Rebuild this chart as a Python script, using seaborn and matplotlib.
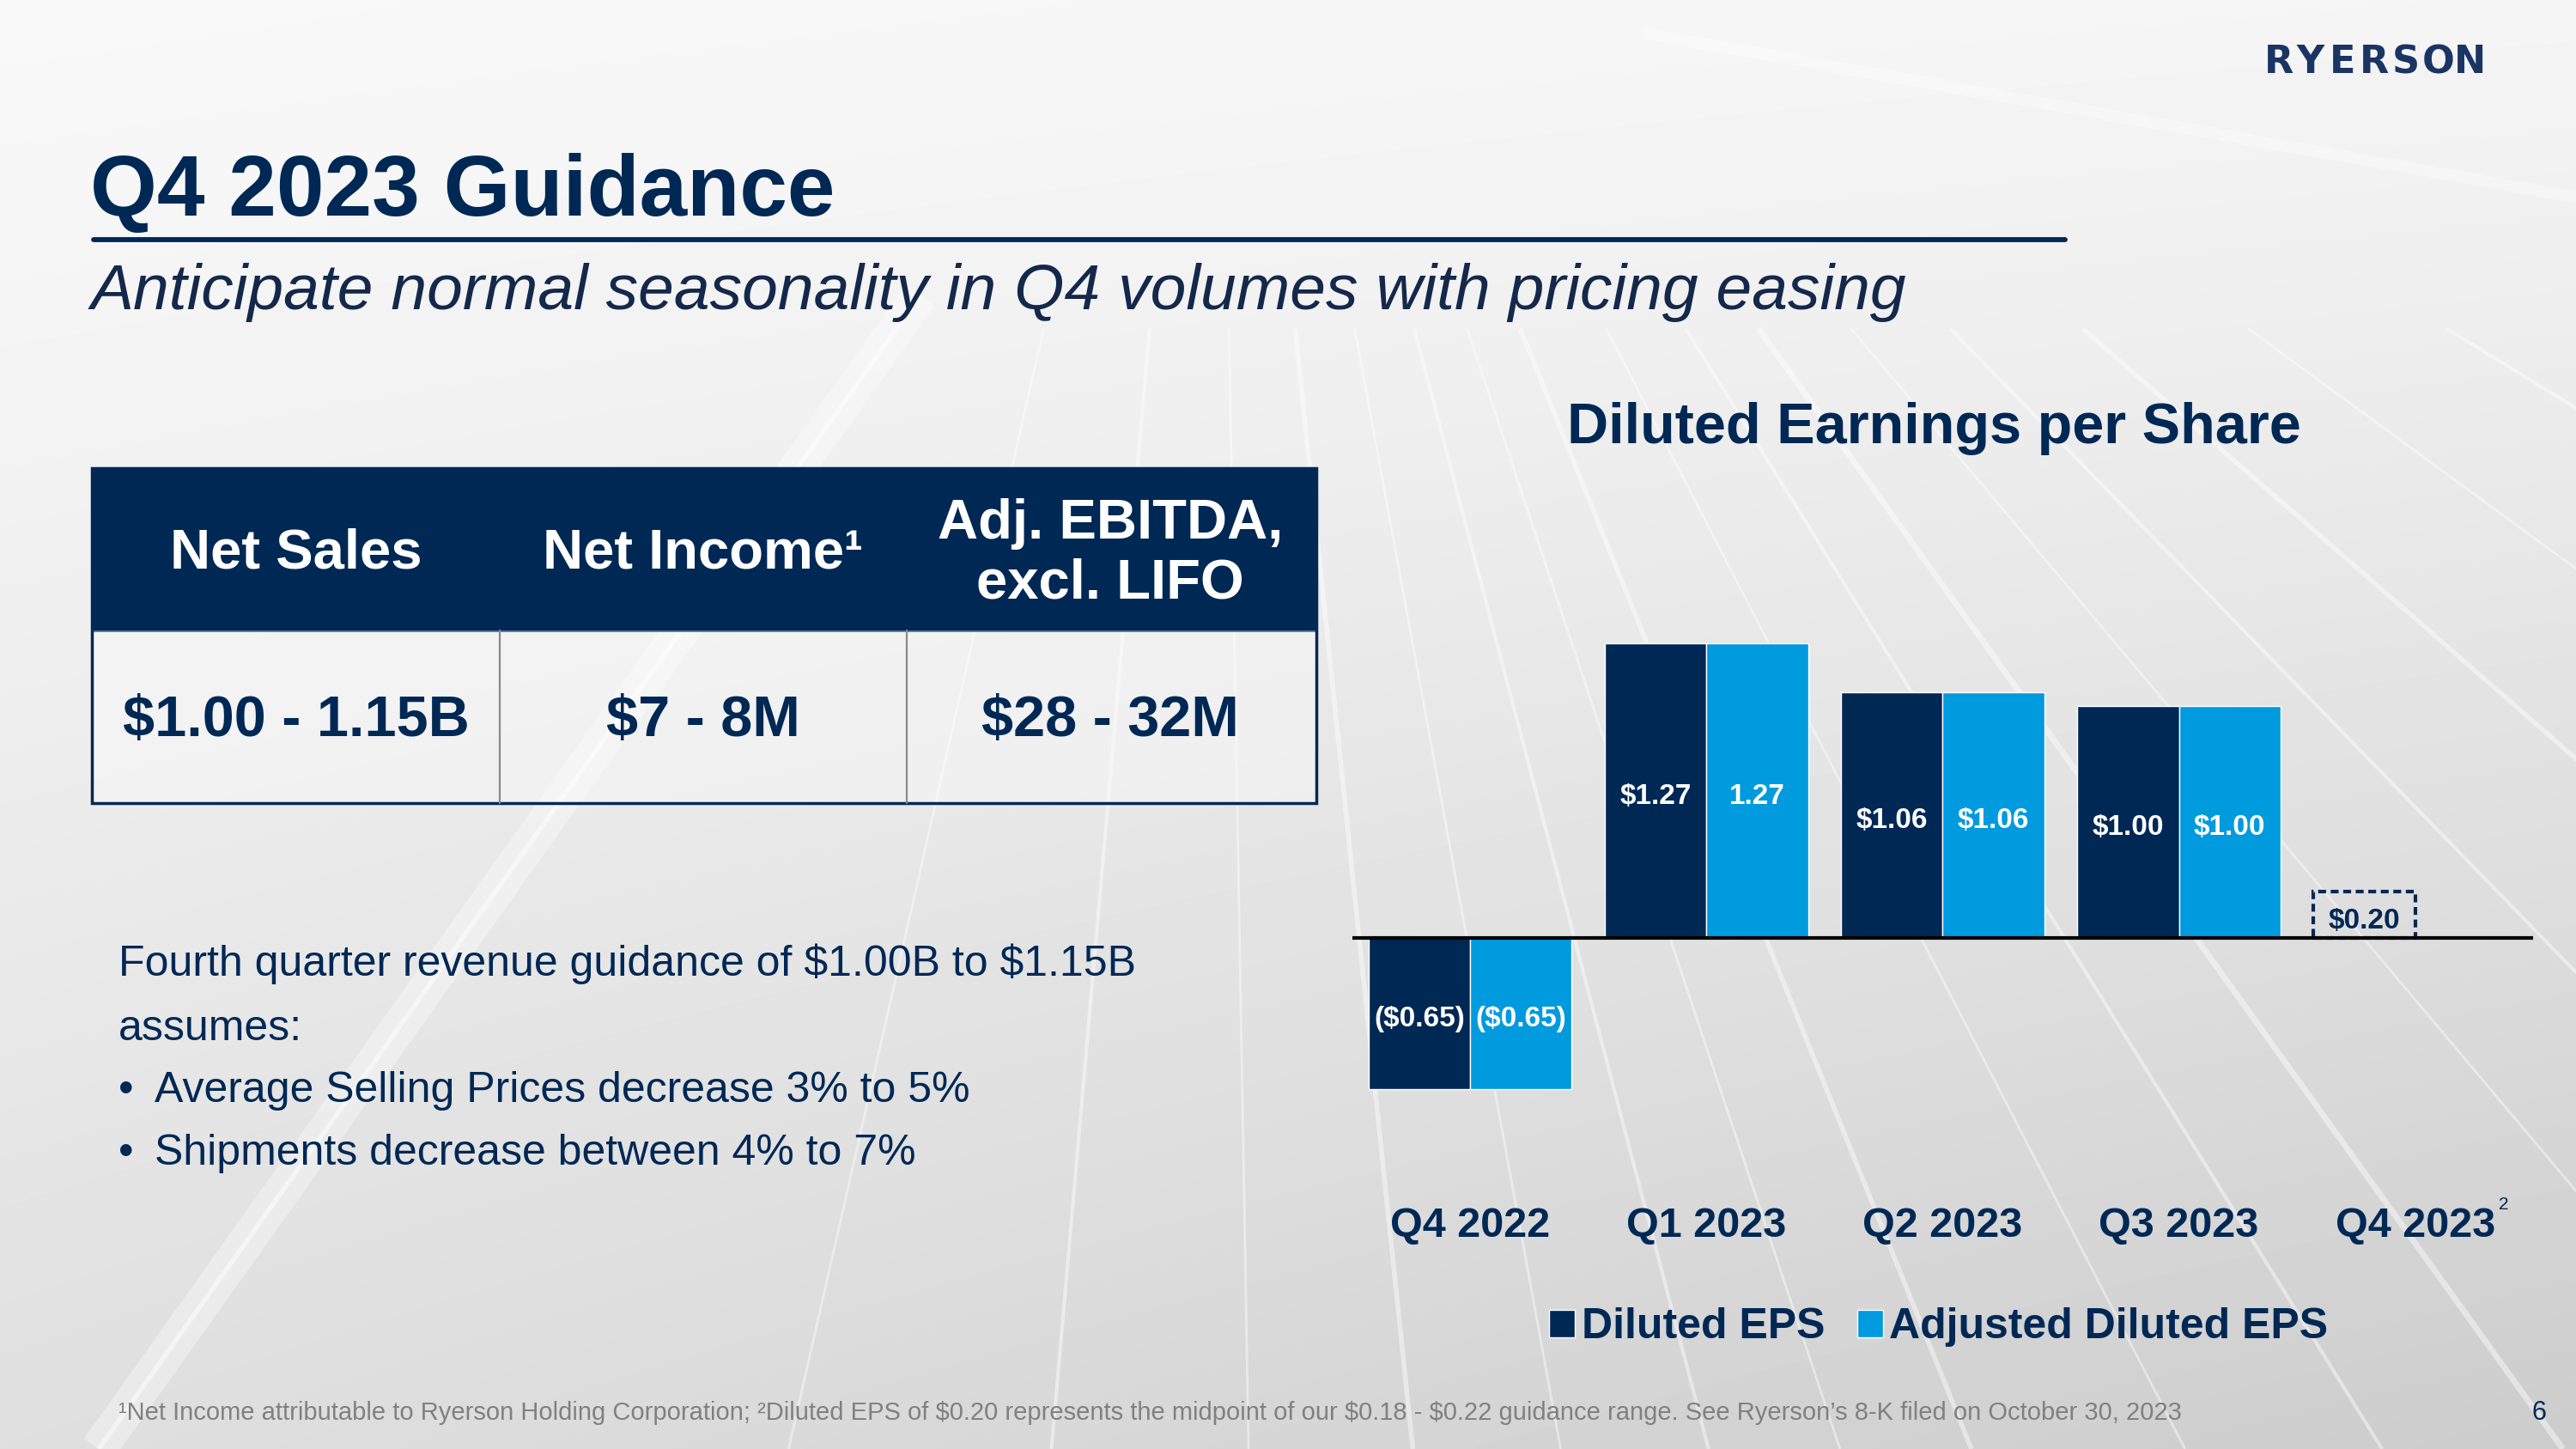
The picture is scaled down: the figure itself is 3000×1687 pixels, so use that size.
import numpy as np
import pandas as pd
import matplotlib
matplotlib.use("Agg")
import matplotlib.pyplot as plt
import seaborn as sns
from matplotlib.patches import Rectangle
from matplotlib.lines import Line2D

# ---------------- data ----------------
quarters = ["Q4 2022", "Q1 2023", "Q2 2023", "Q3 2023", "Q4 2023"]
series_names = ["Diluted EPS", "Adjusted Diluted EPS"]
diluted_eps = [-0.65, 1.27, 1.06, 1.00, 0.20]
adjusted_eps = [-0.65, 1.27, 1.06, 1.00]          # no Q4 2023 value
diluted_labels = [r"(\$0.65)", r"\$1.27", r"\$1.06", r"\$1.00", r"\$0.20"]
adjusted_labels = [r"(\$0.65)", "1.27", r"\$1.06", r"\$1.00"]

table_headers = ["Net Sales", "Net Income¹", "Adj. EBITDA,\nexcl. LIFO"]
table_values = [r"\$1.00 - 1.15B", r"\$7 - 8M", r"\$28 - 32M"]

para_lines = [r"Fourth quarter revenue guidance of \$1.00B to \$1.15B", "assumes:"]
bullets = ["Average Selling Prices decrease 3% to 5%", "Shipments decrease between 4% to 7%"]

NAVY = "#002855"
LIGHT = "#009ADE"
SUB = "#14284B"
GRAY = "#808080"

sns.set_theme(style="white")
plt.rcParams["font.family"] = ["Liberation Sans", "DejaVu Sans"]

fig = plt.figure(figsize=(30, 16.87), dpi=100)

def fx(x):
    return x / 1568.0

def fy(y):
    return 1 - y / 882.0

# ---------------- background ----------------
ax_bg = fig.add_axes([0, 0, 1, 1])
yy, xx = np.mgrid[0:1:300j, 0:1:534j]
bg = 0.975 - 0.10 * yy ** 1.2 - 0.06 * xx * yy - 0.015 * xx
ax_bg.imshow(bg, cmap="gray", vmin=0, vmax=1, extent=[0, 1568, 882, 0], aspect="auto",
             interpolation="bilinear")
# soft broad light band on the left
ax_bg.plot([560, 60], [180, 882], color="white", lw=30, alpha=0.35, solid_capstyle="butt")
ax_bg.plot([560, 60], [180, 882], color="white", lw=4, alpha=0.5, solid_capstyle="butt")
vp = (740, -260)
ends = [480, 640, 760, 860, 950, 1040, 1120, 1200, 1330, 1450, 1560, 1700, 1850,
        2050, 2300, 2600, 2900]
widths = [2, 3, 2, 4, 2, 3, 2, 4, 2, 3, 5, 2, 3, 4, 2, 3, 2]
y_start = 200
for e, w in zip(ends, widths):
    t = (y_start - vp[1]) / (882 - vp[1])
    xs = vp[0] + t * (e - vp[0])
    ax_bg.plot([xs, e], [y_start, 882], color="white", lw=w, alpha=0.45,
               solid_capstyle="butt")
ax_bg.plot([1000, 1568], [20, 120], color="white", lw=10, alpha=0.35, solid_capstyle="butt")
ax_bg.set_xlim(0, 1568)
ax_bg.set_ylim(882, 0)
ax_bg.axis("off")

# ---------------- chart ----------------
df = pd.DataFrame({
    "quarter": quarters + quarters[:len(adjusted_eps)],
    "eps": diluted_eps + adjusted_eps,
    "series": [series_names[0]] * len(diluted_eps) + [series_names[1]] * len(adjusted_eps),
})

ymin, ymax = -1.1, 1.6
unit = 141.3 / 882.0
zero_frac = fy(571)
ax = fig.add_axes([fx(823), zero_frac + ymin * unit, fx(1542) - fx(823), (ymax - ymin) * unit])
ax.set_facecolor("none")
sns.barplot(data=df, x="quarter", y="eps", hue="series", order=quarters,
            hue_order=series_names, palette=[NAVY, LIGHT], saturation=1,
            width=0.86, errorbar=None, ax=ax, legend=True)
ax.set_xlim(-0.5, 4.5)
ax.set_ylim(ymin, ymax)
ax.axhline(0, color="black", lw=3, zorder=5)

# dashed guidance bar
gb = ax.containers[0][4]
gb.set_facecolor("none")
gb.set_edgecolor(NAVY)
gb.set_linestyle((0, (2.2, 1.3)))
gb.set_linewidth(3)

t0 = ax.bar_label(ax.containers[0], labels=diluted_labels, label_type="center",
                  color="white", fontsize=24, fontweight="bold")
t0[-1].set_color(NAVY)
t1 = ax.bar_label(ax.containers[1], labels=adjusted_labels, label_type="center",
                  color="white", fontsize=24, fontweight="bold")
for t in list(t0) + list(t1):
    t.set_y(t.get_position()[1])
    t.xyann = (0, -5)

ax.set_xticks(range(len(quarters)))
ax.set_xticklabels(quarters, fontsize=35, fontweight="bold", color=NAVY)
ax.tick_params(axis="x", length=0, pad=11)
ax.set_yticks([])
ax.set_xlabel("")
ax.set_ylabel("")
for s in ax.spines.values():
    s.set_visible(False)

handles, labels = ax.get_legend_handles_labels()
ax.get_legend().remove()
leg = fig.legend(handles, labels, loc="center", bbox_to_anchor=(fx(1180), fy(808)),
                 ncol=2, frameon=False, handlelength=0.6, handleheight=0.6,
                 handletextpad=0.15, columnspacing=0.75,
                 prop={"size": 36, "weight": "bold"})
for t in leg.get_texts():
    t.set_color(NAVY)

fig.text(fx(1521), fy(733), "2", fontsize=15, color=NAVY, ha="left", va="center")

fig.text(fx(1177), fy(270), "Diluted Earnings per Share", fontsize=48, fontweight="bold",
         color=NAVY, ha="center", va="baseline")

# ---------------- title area ----------------
fig.text(fx(55), fy(131), "Q4 2023 Guidance", fontsize=72, fontweight="bold",
         color=NAVY, ha="left", va="baseline")
fig.add_artist(Line2D([fx(57), fx(1257)], [fy(146), fy(146)], color=NAVY, lw=4.2,
                      transform=fig.transFigure))
fig.text(fx(55), fy(188), "Anticipate normal seasonality in Q4 volumes with pricing easing",
         fontsize=54, style="italic", color=SUB, ha="left", va="baseline")

# logo, letters spaced out like the wordmark
logo = "RYERSON"
for i, ch in enumerate(logo):
    fig.text(fx(1387 + i * 19.4), fy(38), ch, fontsize=32, fontweight="bold",
             color="#1A3563", ha="center", va="center", family="DejaVu Sans")

# ---------------- table ----------------
x0, x1 = fx(56), fx(801)
ytop, ymid, ybot = fy(285), fy(384), fy(489)
fig.add_artist(Rectangle((x0, ymid), x1 - x0, ytop - ymid, transform=fig.transFigure,
                         facecolor=NAVY, edgecolor=NAVY, lw=2))
fig.add_artist(Rectangle((x0, ybot), x1 - x0, ymid - ybot, transform=fig.transFigure,
                         facecolor="white", alpha=0.35, edgecolor="none"))
fig.add_artist(Rectangle((x0, ybot), x1 - x0, ytop - ybot, transform=fig.transFigure,
                         facecolor="none", edgecolor=NAVY, lw=2.5))
for dx in [304, 552]:
    fig.add_artist(Line2D([fx(dx), fx(dx)], [ybot, ymid], color="#8a8a8a", lw=1.6,
                          transform=fig.transFigure))
col_centers = [180, 428, 676]
for c, h in zip(col_centers, table_headers):
    fig.text(fx(c), fy(337), h, fontsize=47, fontweight="bold", color="white",
             ha="center", va="center", linespacing=1.2)
for c, v in zip(col_centers, table_values):
    fig.text(fx(c), fy(439), v, fontsize=48, fontweight="bold", color=NAVY,
             ha="center", va="center")

# ---------------- paragraph ----------------
fig.text(fx(72), fy(594), para_lines[0], fontsize=36, color=NAVY, ha="left", va="baseline")
fig.text(fx(72), fy(633), para_lines[1], fontsize=36, color=NAVY, ha="left", va="baseline")
for yb, b in zip([671, 709], bullets):
    fig.text(fx(72), fy(yb), "•", fontsize=36, color=NAVY, ha="left", va="baseline")
    fig.text(fx(94), fy(yb), b, fontsize=36, color=NAVY, ha="left", va="baseline")

# ---------------- footnote ----------------
fig.text(fx(72), fy(864),
         r"¹Net Income attributable to Ryerson Holding Corporation; ²Diluted EPS of \$0.20 "
         r"represents the midpoint of our \$0.18 - \$0.22 guidance range. See Ryerson’s 8-K "
         r"filed on October 30, 2023",
         fontsize=21, color=GRAY, ha="left", va="baseline")
fig.text(fx(1550), fy(864), "6", fontsize=22, color=NAVY, ha="right", va="baseline")

fig.savefig("out.png", dpi=100)
